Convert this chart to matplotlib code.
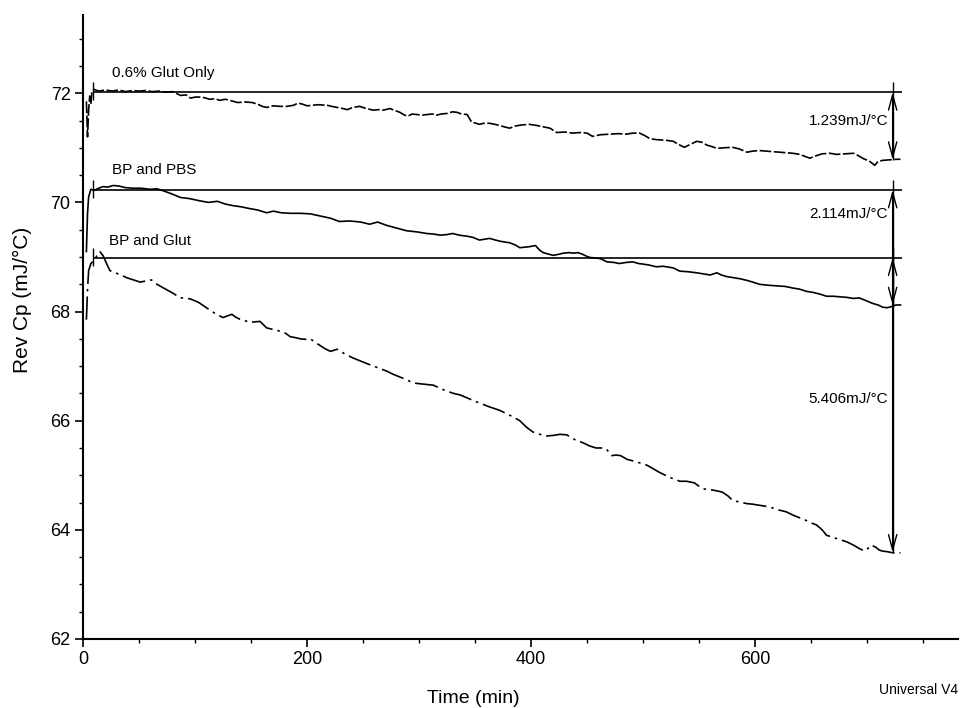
import matplotlib
matplotlib.use("Agg")
import matplotlib.pyplot as plt
from matplotlib.ticker import MultipleLocator

plt.rcParams["font.family"] = ["Liberation Sans", "DejaVu Sans"]

# 0.6% Glut Only
glut_t = [3, 4, 5, 6, 7, 8, 10, 14, 20, 26, 32, 38, 44, 50, 56, 62, 68, 74, 80, 87, 92, 96,
          100, 104, 108, 113, 118, 122, 127, 131, 138, 145, 151, 156, 160, 164, 170, 176, 182,
          188, 192, 196, 200, 205, 210, 218, 222, 227, 232, 236, 241, 247, 253, 259, 264, 268,
          274, 279, 283, 287, 290, 294, 298, 303, 307, 312, 316, 320, 325, 330, 334, 338, 343,
          347, 351, 354, 358, 363, 368, 372, 377, 381, 386, 392, 399, 405, 412, 417, 423, 430,
          437, 444, 450, 455, 462, 470, 478, 485, 491, 497, 502, 506, 512, 520, 527, 532, 537,
          542, 548, 553, 557, 562, 566, 572, 580, 586, 593, 598, 604, 610, 616, 622, 628, 634,
          640, 645, 649, 654, 660, 667, 673, 680, 688, 692, 697, 702, 707, 710, 714, 720, 726, 730]
glut_cp = [71.85, 71.2, 71.7, 71.95, 71.8, 72.04, 72.07, 72.04, 72.06, 72.04, 72.06, 72.03,
           72.05, 72.04, 72.05, 72.03, 72.04, 72.02, 72.03, 71.96, 71.97, 71.91, 71.93, 71.93,
           71.92, 71.89, 71.90, 71.87, 71.89, 71.87, 71.83, 71.84, 71.83, 71.80, 71.76, 71.74,
           71.77, 71.76, 71.76, 71.78, 71.82, 71.80, 71.77, 71.78, 71.79, 71.78, 71.76, 71.74,
           71.72, 71.70, 71.74, 71.76, 71.72, 71.69, 71.70, 71.69, 71.72, 71.68, 71.65, 71.60,
           71.58, 71.62, 71.61, 71.60, 71.61, 71.62, 71.60, 71.62, 71.63, 71.66, 71.65, 71.62,
           71.61, 71.47, 71.45, 71.43, 71.45, 71.45, 71.43, 71.41, 71.38, 71.36, 71.40, 71.42,
           71.43, 71.41, 71.38, 71.36, 71.28, 71.29, 71.27, 71.28, 71.27, 71.21, 71.24, 71.25,
           71.26, 71.25, 71.27, 71.27, 71.22, 71.17, 71.15, 71.14, 71.12, 71.06, 71.01, 71.06,
           71.12, 71.10, 71.05, 71.02, 70.99, 71.00, 71.01, 70.98, 70.92, 70.94, 70.95, 70.94,
           70.93, 70.92, 70.91, 70.90, 70.88, 70.84, 70.81, 70.85, 70.89, 70.90, 70.88, 70.89,
           70.90, 70.86, 70.80, 70.76, 70.68, 70.75, 70.77, 70.78, 70.79, 70.79]

# BP and PBS
pbs_t = [3, 4, 5, 7, 10, 14, 18, 22, 27, 32, 38, 45, 52, 60, 66, 72, 80, 87, 95, 104, 112,
         120, 127, 134, 141, 148, 156, 164, 170, 177, 185, 194, 203, 212, 221, 229, 238, 248,
         256, 263, 271, 280, 289, 298, 307, 313, 319, 325, 330, 336, 343, 348, 354, 363, 372,
         381, 386, 390, 395, 399, 404, 408, 411, 416, 420, 425, 429, 434, 438, 442, 446, 450,
         453, 458, 462, 468, 474, 479, 485, 491, 496, 500, 506, 512, 518, 524, 527, 533, 540,
         548, 554, 560, 566, 570, 575, 581, 587, 593, 598, 604, 608, 613, 620, 627, 634, 640,
         646, 652, 658, 664, 670, 676, 682, 688, 693, 698, 705, 710, 714, 718, 722, 726, 730]
pbs_cp = [69.1, 69.8, 70.1, 70.24, 70.22, 70.26, 70.29, 70.28, 70.31, 70.30, 70.27, 70.26,
          70.26, 70.24, 70.25, 70.21, 70.15, 70.09, 70.07, 70.03, 70.00, 70.02, 69.97, 69.94,
          69.92, 69.89, 69.86, 69.81, 69.84, 69.81, 69.80, 69.80, 69.79, 69.75, 69.71, 69.65,
          69.66, 69.64, 69.60, 69.64, 69.58, 69.53, 69.48, 69.46, 69.43, 69.42, 69.40, 69.41,
          69.43, 69.40, 69.38, 69.36, 69.31, 69.34, 69.29, 69.26, 69.22, 69.17, 69.18, 69.19,
          69.21, 69.12, 69.08, 69.05, 69.03, 69.05, 69.07, 69.08, 69.07, 69.08, 69.05, 69.01,
          68.99, 68.98, 68.97, 68.91, 68.90, 68.88, 68.90, 68.91, 68.88, 68.87, 68.85, 68.82,
          68.83, 68.81, 68.80, 68.74, 68.73, 68.71, 68.69, 68.67, 68.71, 68.67, 68.64, 68.62,
          68.60, 68.57, 68.54, 68.50, 68.49, 68.48, 68.47, 68.46, 68.43, 68.41, 68.37, 68.35,
          68.32, 68.28, 68.28, 68.27, 68.26, 68.24, 68.25, 68.21, 68.15, 68.12, 68.08, 68.07,
          68.09, 68.12, 68.12]

# BP and Glut
bpg_t = [3, 4, 5, 7, 9, 11, 13, 15, 18, 21, 24, 30, 35, 39, 45, 51, 56, 61, 66, 72, 80, 87,
         91, 96, 103, 108, 113, 119, 125, 129, 133, 136, 140, 145, 149, 153, 158, 161, 164,
         170, 176, 181, 185, 190, 194, 199, 203, 207, 210, 216, 221, 227, 234, 241, 247, 253,
         262, 271, 277, 283, 289, 295, 304, 313, 319, 325, 331, 337, 344, 352, 362, 372, 378,
         384, 390, 396, 402, 408, 414, 420, 426, 432, 437, 441, 446, 452, 458, 464, 467, 472,
         476, 480, 486, 490, 495, 500, 504, 509, 515, 520, 524, 528, 533, 539, 546, 550, 554,
         558, 562, 567, 571, 576, 580, 586, 593, 598, 604, 610, 616, 622, 628, 634, 640, 646,
         651, 655, 660, 664, 670, 676, 682, 688, 693, 698, 701, 704, 708, 711, 714, 718, 723, 730]
bpg_cp = [67.85, 68.4, 68.75, 68.88, 68.92, 68.97, 69.05, 69.10, 69.02, 68.88, 68.75, 68.70,
          68.66, 68.62, 68.58, 68.54, 68.56, 68.58, 68.50, 68.43, 68.34, 68.25, 68.25, 68.23,
          68.17, 68.10, 68.03, 67.95, 67.89, 67.92, 67.95, 67.90, 67.86, 67.83, 67.80, 67.81,
          67.82, 67.76, 67.70, 67.67, 67.64, 67.60, 67.54, 67.52, 67.50, 67.49, 67.50, 67.44,
          67.40, 67.32, 67.27, 67.31, 67.22, 67.15, 67.10, 67.05, 66.98, 66.91, 66.85, 66.80,
          66.75, 66.69, 66.67, 66.65, 66.59, 66.54, 66.50, 66.47, 66.41, 66.34, 66.26, 66.19,
          66.13, 66.07, 66.00, 65.88, 65.79, 65.75, 65.72, 65.73, 65.75, 65.74, 65.68, 65.63,
          65.60, 65.54, 65.50, 65.50, 65.49, 65.36, 65.37, 65.36, 65.29, 65.27, 65.24, 65.21,
          65.18, 65.12, 65.05, 65.00, 64.96, 64.93, 64.89, 64.89, 64.86, 64.80, 64.75, 64.74,
          64.73, 64.71, 64.69, 64.62, 64.54, 64.51, 64.48, 64.47, 64.45, 64.43, 64.40, 64.36,
          64.33, 64.27, 64.22, 64.17, 64.12, 64.09, 64.00, 63.90, 63.86, 63.82, 63.78, 63.72,
          63.66, 63.61, 63.66, 63.72, 63.68, 63.63, 63.61, 63.60, 63.58, 63.58]

labels = ["0.6% Glut Only", "BP and PBS", "BP and Glut"]
levels = [72.02, 70.23, 68.99]        # horizontal reference lines
deltas = [1.239, 2.114, 5.406]        # step heights (mJ/°C)
line_start, line_end = 9, 731
arrow_x = 723

fig = plt.figure(figsize=(9.6, 7.08), dpi=100)
ax = fig.add_axes([0.0865, 0.0975, 0.911, 0.881])

ax.plot(glut_t, glut_cp, color="black", lw=1.2, dashes=(7, 1.5))
ax.plot(pbs_t, pbs_cp, color="black", lw=1.2)
ax.plot(bpg_t, bpg_cp, color="black", lw=1.2, dashes=(14, 3, 1.5, 3))

label_y = [72.38, 70.59, 69.29]
label_x = [26, 26, 23]
for lvl, name, lx, ly in zip(levels, labels, label_x, label_y):
    ax.hlines(lvl, line_start, line_end, color="black", lw=1.2)
    ax.vlines(line_start, lvl - 0.15, lvl + 0.18, color="black", lw=1.0)
    ax.text(lx, ly, name, fontsize=11, ha="left", va="center")

# step arrows
text_y = [71.49, 69.78, 66.39]
for lvl, d, ty in zip(levels, deltas, text_y):
    ax.vlines(arrow_x, lvl - d, lvl + 0.18, color="black", lw=1.0)
    ax.annotate("", xy=(arrow_x, lvl), xytext=(arrow_x, lvl - d),
                arrowprops=dict(arrowstyle="<->,head_length=1.1,head_width=0.3",
                                color="black", lw=1.0, shrinkA=0, shrinkB=0,
                                mutation_scale=10))
    ax.text(arrow_x - 4, ty, f"{d:.3f}mJ/°C", fontsize=11, ha="right", va="center")

ax.set_xlim(0, 781)
ax.set_ylim(62, 73.43)
ax.xaxis.set_major_locator(MultipleLocator(200))
ax.xaxis.set_minor_locator(MultipleLocator(50))
ax.yaxis.set_major_locator(MultipleLocator(2))
ax.yaxis.set_minor_locator(MultipleLocator(0.5))
ax.tick_params(which="major", direction="out", length=6, width=1.2, labelsize=13, pad=3)
ax.tick_params(which="minor", direction="out", length=3, width=1.0)

for side in ["top", "right"]:
    ax.spines[side].set_visible(False)
for side in ["left", "bottom"]:
    ax.spines[side].set_linewidth(1.5)

ax.set_xlabel("Time (min)", fontsize=14)
ax.set_ylabel("Rev Cp (mJ/°C)", fontsize=15)
ax.xaxis.set_label_coords(0.446, -0.082)
ax.yaxis.set_label_coords(-0.058, 0.543)

fig.text(0.998, 0.025, "Universal V4", fontsize=10, ha="right", va="center")

fig.savefig("out.png", dpi=100)
